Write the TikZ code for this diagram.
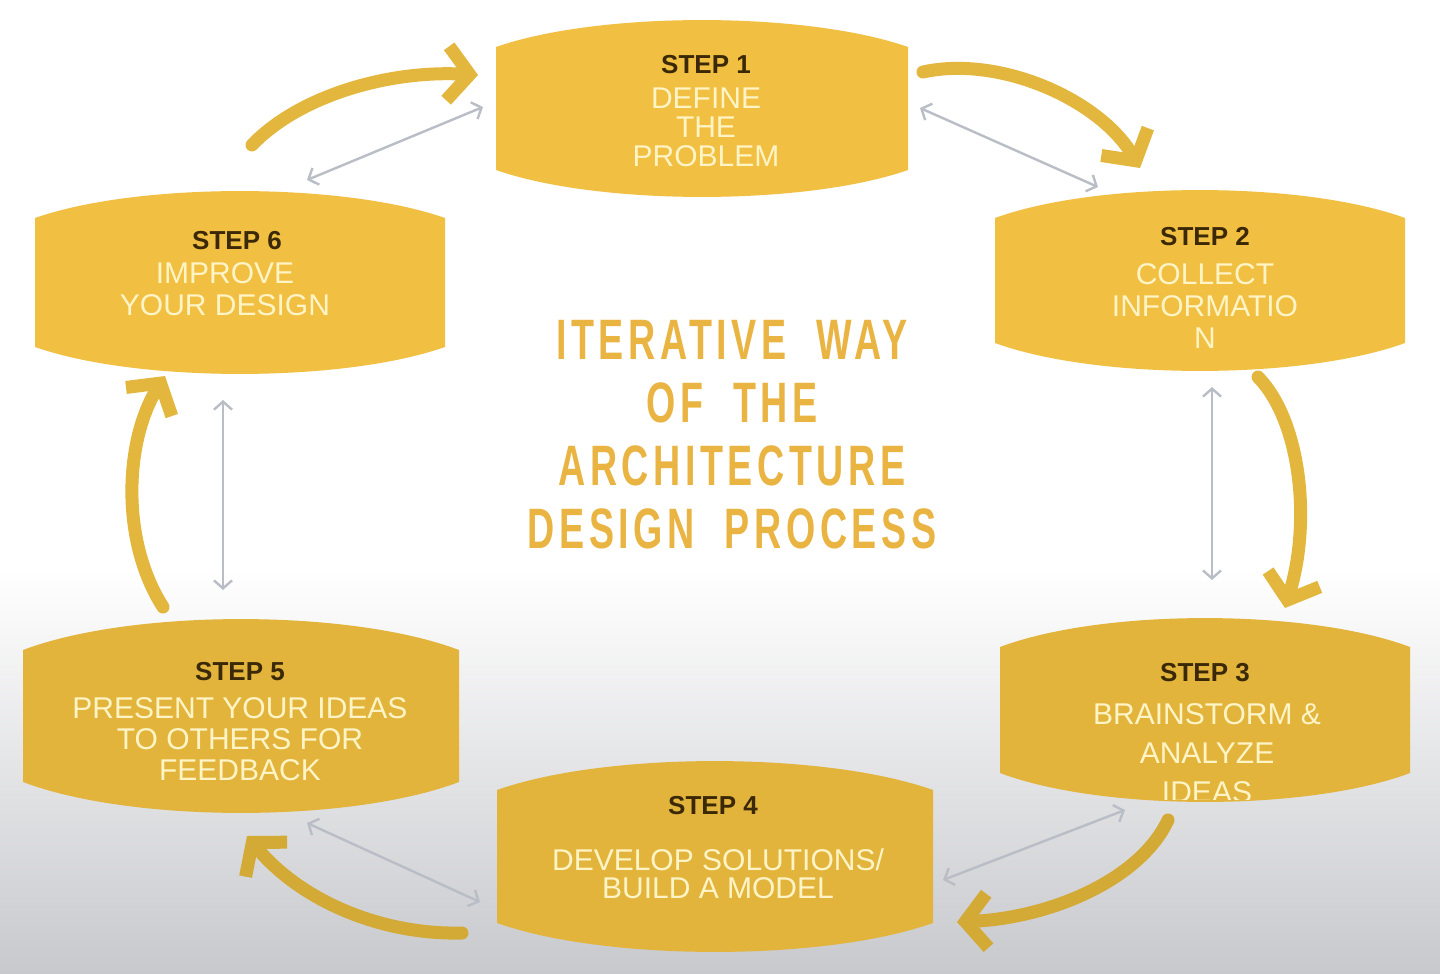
\documentclass[tikz,border=0pt]{standalone}
\usepackage{fontspec}
\setmainfont{Liberation Sans}
\newfontfamily\titlefont[FakeStretch=0.66,LetterSpace=8,WordSpace=2]{Liberation Sans}
\usepackage{tikz}
\usetikzlibrary{arrows.meta}

\definecolor{boxgold}{HTML}{F1BF41}
\definecolor{boxgolddk}{HTML}{E2B43C}
\definecolor{arrowgold}{HTML}{E3B73D}
\definecolor{arrowgolddk}{HTML}{D3AA36}
\definecolor{stepbrown}{HTML}{3A2806}
\definecolor{bodycream}{HTML}{FFF4C6}
\definecolor{titlegold}{HTML}{EAB443}
\definecolor{linkgrey}{HTML}{B9BDC6}
\definecolor{bggrey}{HTML}{C8C9CD}

\begin{document}
\begin{tikzpicture}[x=0.5pt, y=-0.5pt,
  flowarrow/.style={line width=6.5pt, line cap=round, -{Straight Barb[length=11pt,width=27pt]}},
  linkarrow/.style={line width=1.2pt, linkgrey, {Straight Barb[length=4pt,width=9pt]}-{Straight Barb[length=4pt,width=9pt]}},
  steplabel/.style={font=\bfseries\fontsize{13}{15}\selectfont, text=stepbrown, inner sep=0pt},
  stepbody/.style={font=\fontsize{15}{15.5}\selectfont, text=bodycream, align=center, inner sep=0pt}]
  \useasboundingbox (0,0) rectangle (1440,974);

  % Background
  \fill[white] (0,0) rectangle (1440,974);
  \shade[top color=white, bottom color=bggrey] (0,570) rectangle (1440,974);

  % Mask shaped step box: name, centre x, half width, side top, side bottom, bulge, colour
  \newcommand{\maskbox}[7]{
    \fill[#7] ({#2-#3},#4) .. controls ({#2-#3/2},{#4-#6*1.33}) and ({#2+#3/2},{#4-#6*1.33}) .. ({#2+#3},#4)
      -- ({#2+#3},#5) .. controls ({#2+#3/2},{#5+#6*1.33}) and ({#2-#3/2},{#5+#6*1.33}) .. ({#2-#3},#5) -- cycle;
    \coordinate (#1) at (#2,{(#4+#5)/2});
  }

  \maskbox{s1}{702}{206}{47}{170}{27}{boxgold}
  \maskbox{s2}{1200}{205}{218}{343}{28}{boxgold}
  \maskbox{s3}{1205}{205}{647}{773}{29}{boxgolddk}
  \maskbox{s4}{715}{218}{790}{923}{29}{boxgolddk}
  \maskbox{s5}{241}{218}{650}{782}{31}{boxgolddk}
  \maskbox{s6}{240}{205}{218}{347}{27}{boxgold}

  % Step texts
  \node[steplabel] (s1lab) at (706,65) {STEP 1};
  \node[stepbody, font=\fontsize{15}{14.5}\selectfont] (s1txt) at (706,127) {DEFINE\\THE\\PROBLEM};
  \node[steplabel] (s2lab) at (1205,237) {STEP 2};
  \node[stepbody, font=\fontsize{15}{16}\selectfont] (s2txt) at (1205,306) {COLLECT\\INFORMATIO\\N};
  \node[steplabel] (s3lab) at (1205,673) {STEP 3};
  \begin{scope}
    \clip (1000,600) rectangle (1410,799);
    \node[stepbody, font=\fontsize{15}{19.5}\selectfont] (s3txt) at (1207,753) {BRAINSTORM \&\\ANALYZE\\IDEAS};
  \end{scope}
  \node[steplabel] (s4lab) at (713,806) {STEP 4};
  \node[stepbody, font=\fontsize{15}{14}\selectfont] (s4txt) at (718,874) {DEVELOP SOLUTIONS/\\BUILD A MODEL};
  \node[steplabel] (s5lab) at (240,672) {STEP 5};
  \node[stepbody] (s5txt) at (240,739) {PRESENT YOUR IDEAS\\TO OTHERS FOR\\FEEDBACK};
  \node[steplabel] (s6lab) at (237,241) {STEP 6};
  \node[stepbody, font=\fontsize{15}{16}\selectfont] (s6txt) at (225,289) {IMPROVE\\YOUR DESIGN};

  % Title
  \node[font=\titlefont\bfseries\fontsize{28.5}{31.5}\selectfont, text=titlegold, align=center, inner sep=0pt]
    (title) at (732,435) {ITERATIVE WAY\\OF THE\\ARCHITECTURE\\DESIGN PROCESS};

  % Flow arrows
  \coordinate (f61a) at (252,145); \coordinate (f61b) at (478,75);
  \coordinate (f12a) at (923,72);  \coordinate (f12b) at (1140,168);
  \coordinate (f23a) at (1258,377); \coordinate (f23b) at (1285,608);
  \coordinate (f34a) at (1168,820); \coordinate (f34b) at (957,922);
  \coordinate (f45a) at (462,933); \coordinate (f45b) at (247,836);
  \coordinate (f56a) at (163,607); \coordinate (f56b) at (165,376);
  \draw[flowarrow, arrowgold] (f61a) .. controls (300,95) and (390,70) .. (f61b);
  \draw[flowarrow, arrowgold] (f12a) .. controls (1000,55) and (1100,100) .. (f12b);
  \draw[flowarrow, arrowgold] (f23a) .. controls (1300,420) and (1312,520) .. (f23b);
  \draw[flowarrow, arrowgolddk] (f34a) .. controls (1140,880) and (1050,918) .. (f34b);
  \draw[flowarrow, arrowgolddk] (f45a) .. controls (380,935) and (300,900) .. (f45b);
  \draw[flowarrow, arrowgold] (f56a) .. controls (120,540) and (125,440) .. (f56b);

  % Grey links
  \coordinate (l61a) at (307,180); \coordinate (l61b) at (483,107);
  \coordinate (l12a) at (920,108); \coordinate (l12b) at (1098,187);
  \coordinate (l23a) at (1212,387); \coordinate (l23b) at (1212,580);
  \coordinate (l34a) at (1125,810); \coordinate (l34b) at (943,880);
  \coordinate (l45a) at (307,823); \coordinate (l45b) at (480,902);
  \coordinate (l56a) at (223,400); \coordinate (l56b) at (223,590);
  \foreach \a/\b in {l61a/l61b, l12a/l12b, l23a/l23b, l34a/l34b, l45a/l45b, l56a/l56b}
    \draw[linkarrow] (\a) -- (\b);
\end{tikzpicture}
\end{document}
